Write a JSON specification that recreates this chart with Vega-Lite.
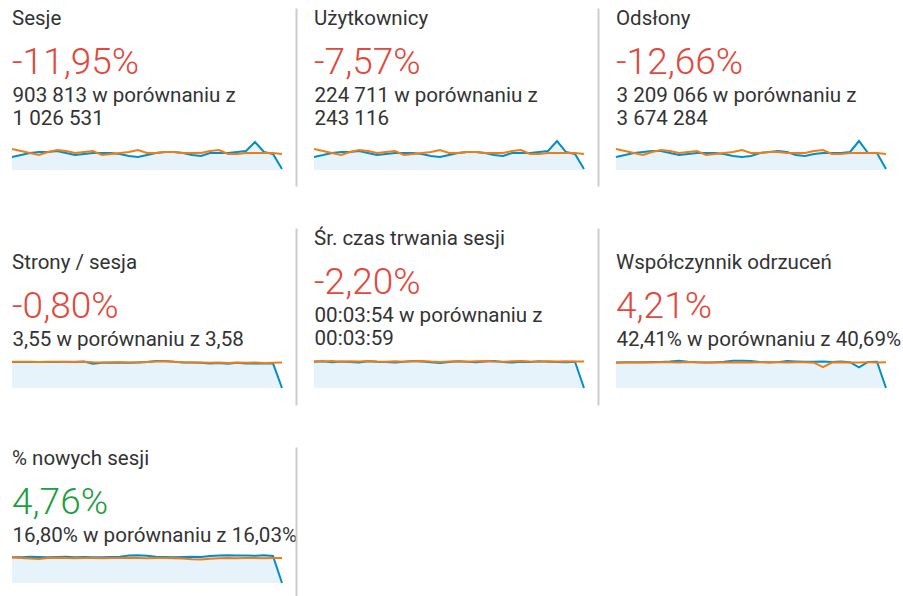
{
  "$schema": "https://vega.github.io/schema/vega-lite/v6.json",
  "padding": {"left": 8, "top": 8, "right": 0, "bottom": 0},
  "autosize": {"type": "pad"},
  "background": "white",
  "config": {"view": {"stroke": null}, "font": "Roboto"},
  "columns": 3,
  "spacing": {"row": 42, "column": 32},
  "bounds": "flush",
  "data": {"values": [
    {"m":"Sesje","d":1,"cur":23315,"prev":37612},{"m":"Sesje","d":2,"cur":26874,"prev":33987},{"m":"Sesje","d":3,"cur":30412,"prev":30455},{"m":"Sesje","d":4,"cur":32251,"prev":26838},{"m":"Sesje","d":5,"cur":32190,"prev":32247},{"m":"Sesje","d":6,"cur":34046,"prev":35781},{"m":"Sesje","d":7,"cur":30398,"prev":34029},{"m":"Sesje","d":8,"cur":26811,"prev":30418},{"m":"Sesje","d":9,"cur":28677,"prev":32196},{"m":"Sesje","d":10,"cur":30455,"prev":34044},{"m":"Sesje","d":11,"cur":30389,"prev":26871},{"m":"Sesje","d":12,"cur":30472,"prev":28619},{"m":"Sesje","d":13,"cur":28603,"prev":30462},{"m":"Sesje","d":14,"cur":25088,"prev":32233},{"m":"Sesje","d":15,"cur":23241,"prev":35815},{"m":"Sesje","d":16,"cur":26832,"prev":30407},{"m":"Sesje","d":17,"cur":30467,"prev":30449},{"m":"Sesje","d":18,"cur":32205,"prev":32212},{"m":"Sesje","d":19,"cur":32264,"prev":32238},{"m":"Sesje","d":20,"cur":30418,"prev":30426},{"m":"Sesje","d":21,"cur":26879,"prev":30391},{"m":"Sesje","d":22,"cur":25037,"prev":30458},{"m":"Sesje","d":23,"cur":30444,"prev":34023},{"m":"Sesje","d":24,"cur":30401,"prev":35786},{"m":"Sesje","d":25,"cur":30463,"prev":28662},{"m":"Sesje","d":26,"cur":32238,"prev":28627},{"m":"Sesje","d":27,"cur":33985,"prev":30441},{"m":"Sesje","d":28,"cur":50142,"prev":30416},{"m":"Sesje","d":29,"cur":32197,"prev":30473},{"m":"Sesje","d":30,"cur":28655,"prev":30409},{"m":"Sesje","d":31,"cur":1812,"prev":28651},
    {"m":"Users","d":1,"cur":5790,"prev":9300},{"m":"Users","d":2,"cur":6620,"prev":8420},{"m":"Users","d":3,"cur":7550,"prev":7530},{"m":"Users","d":4,"cur":7960,"prev":6650},{"m":"Users","d":5,"cur":8010,"prev":7970},{"m":"Users","d":6,"cur":8390,"prev":8860},{"m":"Users","d":7,"cur":7520,"prev":8410},{"m":"Users","d":8,"cur":6670,"prev":7540},{"m":"Users","d":9,"cur":7110,"prev":7980},{"m":"Users","d":10,"cur":7540,"prev":8430},{"m":"Users","d":11,"cur":7500,"prev":6640},{"m":"Users","d":12,"cur":7560,"prev":7090},{"m":"Users","d":13,"cur":7070,"prev":7520},{"m":"Users","d":14,"cur":6230,"prev":7970},{"m":"Users","d":15,"cur":5740,"prev":8870},{"m":"Users","d":16,"cur":6660,"prev":7530},{"m":"Users","d":17,"cur":7540,"prev":7550},{"m":"Users","d":18,"cur":7990,"prev":7960},{"m":"Users","d":19,"cur":7950,"prev":7990},{"m":"Users","d":20,"cur":7520,"prev":7520},{"m":"Users","d":21,"cur":6620,"prev":7540},{"m":"Users","d":22,"cur":6190,"prev":7510},{"m":"Users","d":23,"cur":7560,"prev":8420},{"m":"Users","d":24,"cur":7510,"prev":8850},{"m":"Users","d":25,"cur":7550,"prev":7080},{"m":"Users","d":26,"cur":7990,"prev":7100},{"m":"Users","d":27,"cur":8430,"prev":7530},{"m":"Users","d":28,"cur":12850,"prev":7510},{"m":"Users","d":29,"cur":7970,"prev":7550},{"m":"Users","d":30,"cur":7090,"prev":7520},{"m":"Users","d":31,"cur":450,"prev":7090},
    {"m":"Views","d":1,"cur":82400,"prev":132900},{"m":"Views","d":2,"cur":94800,"prev":120300},{"m":"Views","d":3,"cur":107700,"prev":107600},{"m":"Views","d":4,"cur":113900,"prev":95000},{"m":"Views","d":5,"cur":120400,"prev":113900},{"m":"Views","d":6,"cur":120100,"prev":126600},{"m":"Views","d":7,"cur":107500,"prev":120200},{"m":"Views","d":8,"cur":95100,"prev":107700},{"m":"Views","d":9,"cur":101200,"prev":114000},{"m":"Views","d":10,"cur":107800,"prev":120300},{"m":"Views","d":11,"cur":107400,"prev":94900},{"m":"Views","d":12,"cur":107700,"prev":101300},{"m":"Views","d":13,"cur":101400,"prev":107500},{"m":"Views","d":14,"cur":88500,"prev":113900},{"m":"Views","d":15,"cur":82300,"prev":126700},{"m":"Views","d":16,"cur":88700,"prev":107600},{"m":"Views","d":17,"cur":107600,"prev":107400},{"m":"Views","d":18,"cur":114000,"prev":113800},{"m":"Views","d":19,"cur":120200,"prev":114100},{"m":"Views","d":20,"cur":113800,"prev":107700},{"m":"Views","d":21,"cur":94900,"prev":107500},{"m":"Views","d":22,"cur":88600,"prev":107600},{"m":"Views","d":23,"cur":101300,"prev":120400},{"m":"Views","d":24,"cur":107500,"prev":126500},{"m":"Views","d":25,"cur":107700,"prev":101200},{"m":"Views","d":26,"cur":107400,"prev":101400},{"m":"Views","d":27,"cur":113900,"prev":107600},{"m":"Views","d":28,"cur":183600,"prev":107500},{"m":"Views","d":29,"cur":107600,"prev":107700},{"m":"Views","d":30,"cur":107800,"prev":107400},{"m":"Views","d":31,"cur":6400,"prev":101300},
    {"m":"Pages","d":1,"cur":3.55,"prev":3.58},{"m":"Pages","d":2,"cur":3.56,"prev":3.57},{"m":"Pages","d":3,"cur":3.55,"prev":3.59},{"m":"Pages","d":4,"cur":3.54,"prev":3.56},{"m":"Pages","d":5,"cur":3.56,"prev":3.58},{"m":"Pages","d":6,"cur":3.55,"prev":3.57},{"m":"Pages","d":7,"cur":3.57,"prev":3.55},{"m":"Pages","d":8,"cur":3.56,"prev":3.57},{"m":"Pages","d":9,"cur":3.62,"prev":3.58},{"m":"Pages","d":10,"cur":3.30,"prev":3.52},{"m":"Pages","d":11,"cur":3.44,"prev":3.50},{"m":"Pages","d":12,"cur":3.46,"prev":3.53},{"m":"Pages","d":13,"cur":3.47,"prev":3.51},{"m":"Pages","d":14,"cur":3.45,"prev":3.50},{"m":"Pages","d":15,"cur":3.48,"prev":3.52},{"m":"Pages","d":16,"cur":3.55,"prev":3.56},{"m":"Pages","d":17,"cur":3.68,"prev":3.63},{"m":"Pages","d":18,"cur":3.69,"prev":3.65},{"m":"Pages","d":19,"cur":3.58,"prev":3.60},{"m":"Pages","d":20,"cur":3.50,"prev":3.52},{"m":"Pages","d":21,"cur":3.47,"prev":3.49},{"m":"Pages","d":22,"cur":3.45,"prev":3.50},{"m":"Pages","d":23,"cur":3.36,"prev":3.45},{"m":"Pages","d":24,"cur":3.42,"prev":3.48},{"m":"Pages","d":25,"cur":3.33,"prev":3.42},{"m":"Pages","d":26,"cur":3.44,"prev":3.50},{"m":"Pages","d":27,"cur":3.35,"prev":3.44},{"m":"Pages","d":28,"cur":3.36,"prev":3.47},{"m":"Pages","d":29,"cur":3.34,"prev":3.43},{"m":"Pages","d":30,"cur":3.37,"prev":3.46},{"m":"Pages","d":31,"cur":0,"prev":3.47},
    {"m":"Dur","d":1,"cur":236,"prev":240},{"m":"Dur","d":2,"cur":240,"prev":238},{"m":"Dur","d":3,"cur":231,"prev":242},{"m":"Dur","d":4,"cur":238,"prev":236},{"m":"Dur","d":5,"cur":233,"prev":241},{"m":"Dur","d":6,"cur":229,"prev":238},{"m":"Dur","d":7,"cur":241,"prev":243},{"m":"Dur","d":8,"cur":236,"prev":239},{"m":"Dur","d":9,"cur":234,"prev":237},{"m":"Dur","d":10,"cur":230,"prev":241},{"m":"Dur","d":11,"cur":237,"prev":236},{"m":"Dur","d":12,"cur":244,"prev":240},{"m":"Dur","d":13,"cur":239,"prev":243},{"m":"Dur","d":14,"cur":232,"prev":238},{"m":"Dur","d":15,"cur":226,"prev":235},{"m":"Dur","d":16,"cur":233,"prev":239},{"m":"Dur","d":17,"cur":240,"prev":241},{"m":"Dur","d":18,"cur":236,"prev":237},{"m":"Dur","d":19,"cur":231,"prev":240},{"m":"Dur","d":20,"cur":238,"prev":242},{"m":"Dur","d":21,"cur":242,"prev":238},{"m":"Dur","d":22,"cur":235,"prev":236},{"m":"Dur","d":23,"cur":229,"prev":240},{"m":"Dur","d":24,"cur":236,"prev":243},{"m":"Dur","d":25,"cur":233,"prev":239},{"m":"Dur","d":26,"cur":240,"prev":237},{"m":"Dur","d":27,"cur":237,"prev":241},{"m":"Dur","d":28,"cur":234,"prev":238},{"m":"Dur","d":29,"cur":231,"prev":240},{"m":"Dur","d":30,"cur":236,"prev":239},{"m":"Dur","d":31,"cur":0,"prev":238},
    {"m":"Bounce","d":1,"cur":41.5,"prev":41.2},{"m":"Bounce","d":2,"cur":41.8,"prev":41.6},{"m":"Bounce","d":3,"cur":42.0,"prev":41.4},{"m":"Bounce","d":4,"cur":41.9,"prev":42.0},{"m":"Bounce","d":5,"cur":42.3,"prev":41.7},{"m":"Bounce","d":6,"cur":42.6,"prev":42.1},{"m":"Bounce","d":7,"cur":43.2,"prev":41.8},{"m":"Bounce","d":8,"cur":44.5,"prev":41.5},{"m":"Bounce","d":9,"cur":43.0,"prev":42.2},{"m":"Bounce","d":10,"cur":42.1,"prev":41.9},{"m":"Bounce","d":11,"cur":41.6,"prev":41.6},{"m":"Bounce","d":12,"cur":41.9,"prev":42.0},{"m":"Bounce","d":13,"cur":42.8,"prev":41.7},{"m":"Bounce","d":14,"cur":44.3,"prev":41.4},{"m":"Bounce","d":15,"cur":44.6,"prev":41.9},{"m":"Bounce","d":16,"cur":44.1,"prev":41.6},{"m":"Bounce","d":17,"cur":42.5,"prev":41.8},{"m":"Bounce","d":18,"cur":41.6,"prev":42.2},{"m":"Bounce","d":19,"cur":42.2,"prev":41.9},{"m":"Bounce","d":20,"cur":44.2,"prev":41.5},{"m":"Bounce","d":21,"cur":43.4,"prev":41.8},{"m":"Bounce","d":22,"cur":42.7,"prev":42.0},{"m":"Bounce","d":23,"cur":42.9,"prev":41.3},{"m":"Bounce","d":24,"cur":43.1,"prev":34.2},{"m":"Bounce","d":25,"cur":42.6,"prev":41.6},{"m":"Bounce","d":26,"cur":43.3,"prev":41.9},{"m":"Bounce","d":27,"cur":42.0,"prev":41.5},{"m":"Bounce","d":28,"cur":33.5,"prev":41.7},{"m":"Bounce","d":29,"cur":42.6,"prev":41.8},{"m":"Bounce","d":30,"cur":42.9,"prev":41.6},{"m":"Bounce","d":31,"cur":0,"prev":41.9},
    {"m":"New","d":1,"cur":16.6,"prev":16.4},{"m":"New","d":2,"cur":16.7,"prev":16.2},{"m":"New","d":3,"cur":16.9,"prev":15.8},{"m":"New","d":4,"cur":16.8,"prev":15.5},{"m":"New","d":5,"cur":16.7,"prev":16.1},{"m":"New","d":6,"cur":16.8,"prev":16.3},{"m":"New","d":7,"cur":16.9,"prev":16.2},{"m":"New","d":8,"cur":16.7,"prev":16.0},{"m":"New","d":9,"cur":16.8,"prev":16.2},{"m":"New","d":10,"cur":16.6,"prev":16.1},{"m":"New","d":11,"cur":16.7,"prev":16.0},{"m":"New","d":12,"cur":16.8,"prev":16.2},{"m":"New","d":13,"cur":16.9,"prev":16.1},{"m":"New","d":14,"cur":17.8,"prev":16.3},{"m":"New","d":15,"cur":18.0,"prev":16.2},{"m":"New","d":16,"cur":17.6,"prev":16.0},{"m":"New","d":17,"cur":16.9,"prev":16.1},{"m":"New","d":18,"cur":16.8,"prev":16.2},{"m":"New","d":19,"cur":16.7,"prev":16.0},{"m":"New","d":20,"cur":16.8,"prev":15.9},{"m":"New","d":21,"cur":16.9,"prev":15.4},{"m":"New","d":22,"cur":16.8,"prev":15.2},{"m":"New","d":23,"cur":17.5,"prev":15.7},{"m":"New","d":24,"cur":17.8,"prev":16.0},{"m":"New","d":25,"cur":17.9,"prev":16.1},{"m":"New","d":26,"cur":17.7,"prev":16.0},{"m":"New","d":27,"cur":17.8,"prev":16.2},{"m":"New","d":28,"cur":17.6,"prev":16.1},{"m":"New","d":29,"cur":17.9,"prev":16.0},{"m":"New","d":30,"cur":17.4,"prev":16.2},{"m":"New","d":31,"cur":0,"prev":16.1}
  ]},
  "concat": [
    {
      "width": 270, "height": 178,
      "title": {"text": "Sesje", "subtitle": "-11,95%", "anchor": "start", "frame": "group", "offset": -72.5, "font": "Roboto", "fontSize": 20.5, "fontWeight": "normal", "color": "#333333", "subtitleFont": "Roboto", "subtitleFontSize": 37, "subtitleFontWeight": 300, "subtitleColor": "#e0493b", "subtitlePadding": 15},
      "transform": [{"filter": {"field": "m", "equal": "Sesje"}}, {"fold": ["cur", "prev"], "as": ["s", "v"]}],
      "encoding": {
        "x": {"field": "d", "type": "quantitative", "scale": {"domain": [1, 31], "nice": false, "zero": false},
              "axis": {"orient": "top", "title": ["903 813 w porównaniu z", "1 026 531"], "labels": false, "ticks": false, "domain": false, "grid": false, "titleAnchor": "start", "titleAlign": "left", "titleBaseline": "top", "titleX": 0, "titleY": 77, "titleFont": "Roboto", "titleFontSize": 20.6, "titleFontWeight": "normal", "titleColor": "#333333", "titleLineHeight": 23, "titleLimit": 400}},
        "y": {"field": "v", "type": "quantitative", "scale": {"domain": [-28640, 289980], "nice": false},
              "axis": {"orient": "right", "title": null, "labels": false, "ticks": false, "grid": false, "domain": true, "domainColor": "#cccccc", "domainWidth": 2, "offset": 14}}
      },
      "layer": [
        {"transform": [{"filter": {"field": "s", "equal": "cur"}}], "mark": {"type": "area", "color": "#e6f3fa"}},
        {"mark": {"type": "line", "strokeWidth": 2}, "encoding": {"color": {"field": "s", "type": "nominal", "scale": {"domain": ["cur", "prev"], "range": ["#058dc7", "#ed7e17"]}, "legend": null}}}
      ]
    },
    {
      "width": 270, "height": 178,
      "title": {"text": "Użytkownicy", "subtitle": "-7,57%", "anchor": "start", "frame": "group", "offset": -72.5, "font": "Roboto", "fontSize": 20.5, "fontWeight": "normal", "color": "#333333", "subtitleFont": "Roboto", "subtitleFontSize": 37, "subtitleFontWeight": 300, "subtitleColor": "#e0493b", "subtitlePadding": 15},
      "transform": [{"filter": {"field": "m", "equal": "Users"}}, {"fold": ["cur", "prev"], "as": ["s", "v"]}],
      "encoding": {
        "x": {"field": "d", "type": "quantitative", "scale": {"domain": [1, 31], "nice": false, "zero": false},
              "axis": {"orient": "top", "title": ["224 711 w porównaniu z", "243 116"], "labels": false, "ticks": false, "domain": false, "grid": false, "titleAnchor": "start", "titleAlign": "left", "titleBaseline": "top", "titleX": 0, "titleY": 77, "titleFont": "Roboto", "titleFontSize": 20.6, "titleFontWeight": "normal", "titleColor": "#333333", "titleLineHeight": 23, "titleLimit": 400}},
        "y": {"field": "v", "type": "quantitative", "scale": {"domain": [-7088, 71766], "nice": false},
              "axis": {"orient": "right", "title": null, "labels": false, "ticks": false, "grid": false, "domain": true, "domainColor": "#cccccc", "domainWidth": 2, "offset": 14}}
      },
      "layer": [
        {"transform": [{"filter": {"field": "s", "equal": "cur"}}], "mark": {"type": "area", "color": "#e6f3fa"}},
        {"mark": {"type": "line", "strokeWidth": 2}, "encoding": {"color": {"field": "s", "type": "nominal", "scale": {"domain": ["cur", "prev"], "range": ["#058dc7", "#ed7e17"]}, "legend": null}}}
      ]
    },
    {
      "width": 270, "height": 178,
      "title": {"text": "Odsłony", "subtitle": "-12,66%", "anchor": "start", "frame": "group", "offset": -72.5, "font": "Roboto", "fontSize": 20.5, "fontWeight": "normal", "color": "#333333", "subtitleFont": "Roboto", "subtitleFontSize": 37, "subtitleFontWeight": 300, "subtitleColor": "#e0493b", "subtitlePadding": 15},
      "transform": [{"filter": {"field": "m", "equal": "Views"}}, {"fold": ["cur", "prev"], "as": ["s", "v"]}],
      "encoding": {
        "x": {"field": "d", "type": "quantitative", "scale": {"domain": [1, 31], "nice": false, "zero": false},
              "axis": {"orient": "top", "title": ["3 209 066 w porównaniu z", "3 674 284"], "labels": false, "ticks": false, "domain": false, "grid": false, "titleAnchor": "start", "titleAlign": "left", "titleBaseline": "top", "titleX": 0, "titleY": 77, "titleFont": "Roboto", "titleFontSize": 20.6, "titleFontWeight": "normal", "titleColor": "#333333", "titleLineHeight": 23, "titleLimit": 400}},
        "y": {"field": "v", "type": "quantitative", "scale": {"domain": [-101280, 1025460], "nice": false},
              "axis": {"orient": "right", "title": null, "labels": false, "ticks": false, "grid": false, "domain": true, "domainColor": "#cccccc", "domainOpacity": 0, "domainWidth": 2, "offset": 14}}
      },
      "layer": [
        {"transform": [{"filter": {"field": "s", "equal": "cur"}}], "mark": {"type": "area", "color": "#e6f3fa"}},
        {"mark": {"type": "line", "strokeWidth": 2}, "encoding": {"color": {"field": "s", "type": "nominal", "scale": {"domain": ["cur", "prev"], "range": ["#058dc7", "#ed7e17"]}, "legend": null}}}
      ]
    },
    {
      "width": 270, "height": 177,
      "title": {"text": "Strony / sesja", "subtitle": "-0,80%", "anchor": "start", "frame": "group", "offset": -96.5, "font": "Roboto", "fontSize": 20.5, "fontWeight": "normal", "color": "#333333", "subtitleFont": "Roboto", "subtitleFontSize": 37, "subtitleFontWeight": 300, "subtitleColor": "#e0493b", "subtitlePadding": 15},
      "transform": [{"filter": {"field": "m", "equal": "Pages"}}, {"fold": ["cur", "prev"], "as": ["s", "v"]}],
      "encoding": {
        "x": {"field": "d", "type": "quantitative", "scale": {"domain": [1, 31], "nice": false, "zero": false},
              "axis": {"orient": "top", "title": "3,55 w porównaniu z 3,58", "labels": false, "ticks": false, "domain": false, "grid": false, "titleAnchor": "start", "titleAlign": "left", "titleBaseline": "top", "titleX": 0, "titleY": 101, "titleFont": "Roboto", "titleFontSize": 20.6, "titleFontWeight": "normal", "titleColor": "#333333", "titleLineHeight": 23, "titleLimit": 400}},
        "y": {"field": "v", "type": "quantitative", "scale": {"domain": [-2.32, 21.85], "nice": false},
              "axis": {"orient": "right", "title": null, "labels": false, "ticks": false, "grid": false, "domain": true, "domainColor": "#cccccc", "domainWidth": 2, "offset": 14}}
      },
      "layer": [
        {"transform": [{"filter": {"field": "s", "equal": "cur"}}], "mark": {"type": "area", "color": "#e6f3fa"}},
        {"mark": {"type": "line", "strokeWidth": 2}, "encoding": {"color": {"field": "s", "type": "nominal", "scale": {"domain": ["cur", "prev"], "range": ["#058dc7", "#ed7e17"]}, "legend": null}}}
      ]
    },
    {
      "width": 270, "height": 177,
      "title": {"text": "Śr. czas trwania sesji", "subtitle": "-2,20%", "anchor": "start", "frame": "group", "offset": -72.5, "font": "Roboto", "fontSize": 20.5, "fontWeight": "normal", "color": "#333333", "subtitleFont": "Roboto", "subtitleFontSize": 37, "subtitleFontWeight": 300, "subtitleColor": "#e0493b", "subtitlePadding": 15},
      "transform": [{"filter": {"field": "m", "equal": "Dur"}}, {"fold": ["cur", "prev"], "as": ["s", "v"]}],
      "encoding": {
        "x": {"field": "d", "type": "quantitative", "scale": {"domain": [1, 31], "nice": false, "zero": false},
              "axis": {"orient": "top", "title": ["00:03:54 w porównaniu z", "00:03:59"], "labels": false, "ticks": false, "domain": false, "grid": false, "titleAnchor": "start", "titleAlign": "left", "titleBaseline": "top", "titleX": 0, "titleY": 77, "titleFont": "Roboto", "titleFontSize": 20.6, "titleFontWeight": "normal", "titleColor": "#333333", "titleLineHeight": 23, "titleLimit": 400}},
        "y": {"field": "v", "type": "quantitative", "scale": {"domain": [-153, 1440], "nice": false},
              "axis": {"orient": "right", "title": null, "labels": false, "ticks": false, "grid": false, "domain": true, "domainColor": "#cccccc", "domainWidth": 2, "offset": 14}}
      },
      "layer": [
        {"transform": [{"filter": {"field": "s", "equal": "cur"}}], "mark": {"type": "area", "color": "#e6f3fa"}},
        {"mark": {"type": "line", "strokeWidth": 2}, "encoding": {"color": {"field": "s", "type": "nominal", "scale": {"domain": ["cur", "prev"], "range": ["#058dc7", "#ed7e17"]}, "legend": null}}}
      ]
    },
    {
      "width": 270, "height": 177,
      "title": {"text": "Współczynnik odrzuceń", "subtitle": "4,21%", "anchor": "start", "frame": "group", "offset": -96.5, "font": "Roboto", "fontSize": 20.5, "fontWeight": "normal", "color": "#333333", "subtitleFont": "Roboto", "subtitleFontSize": 37, "subtitleFontWeight": 300, "subtitleColor": "#e0493b", "subtitlePadding": 15},
      "transform": [{"filter": {"field": "m", "equal": "Bounce"}}, {"fold": ["cur", "prev"], "as": ["s", "v"]}],
      "encoding": {
        "x": {"field": "d", "type": "quantitative", "scale": {"domain": [1, 31], "nice": false, "zero": false},
              "axis": {"orient": "top", "title": "42,41% w porównaniu z 40,69%", "labels": false, "ticks": false, "domain": false, "grid": false, "titleAnchor": "start", "titleAlign": "left", "titleBaseline": "top", "titleX": 0, "titleY": 101, "titleFont": "Roboto", "titleFontSize": 20.6, "titleFontWeight": "normal", "titleColor": "#333333", "titleLineHeight": 23, "titleLimit": 400}},
        "y": {"field": "v", "type": "quantitative", "scale": {"domain": [-27.73, 260.96], "nice": false},
              "axis": {"orient": "right", "title": null, "labels": false, "ticks": false, "grid": false, "domain": true, "domainColor": "#cccccc", "domainOpacity": 0, "domainWidth": 2, "offset": 14}}
      },
      "layer": [
        {"transform": [{"filter": {"field": "s", "equal": "cur"}}], "mark": {"type": "area", "color": "#e6f3fa"}},
        {"mark": {"type": "line", "strokeWidth": 2}, "encoding": {"color": {"field": "s", "type": "nominal", "scale": {"domain": ["cur", "prev"], "range": ["#058dc7", "#ed7e17"]}, "legend": null}}}
      ]
    },
    {
      "width": 270, "height": 154,
      "title": {"text": "% nowych sesji", "subtitle": "4,76%", "anchor": "start", "frame": "group", "offset": -73.5, "font": "Roboto", "fontSize": 20.5, "fontWeight": "normal", "color": "#333333", "subtitleFont": "Roboto", "subtitleFontSize": 37, "subtitleFontWeight": 300, "subtitleColor": "#1e9e3e", "subtitlePadding": 15},
      "transform": [{"filter": {"field": "m", "equal": "New"}}, {"fold": ["cur", "prev"], "as": ["s", "v"]}],
      "encoding": {
        "x": {"field": "d", "type": "quantitative", "scale": {"domain": [1, 31], "nice": false, "zero": false},
              "axis": {"orient": "top", "title": "16,80% w porównaniu z 16,03%", "labels": false, "ticks": false, "domain": false, "grid": false, "titleAnchor": "start", "titleAlign": "left", "titleBaseline": "top", "titleX": 0, "titleY": 78, "titleFont": "Roboto", "titleFontSize": 20.6, "titleFontWeight": "normal", "titleColor": "#333333", "titleLineHeight": 23, "titleLimit": 400}},
        "y": {"field": "v", "type": "quantitative", "scale": {"domain": [-11.63, 87.86], "nice": false},
              "axis": {"orient": "right", "title": null, "labels": false, "ticks": false, "grid": false, "domain": true, "domainColor": "#cccccc", "domainWidth": 2, "offset": 14}}
      },
      "layer": [
        {"transform": [{"filter": {"field": "s", "equal": "cur"}}], "mark": {"type": "area", "color": "#e6f3fa"}},
        {"mark": {"type": "line", "strokeWidth": 2}, "encoding": {"color": {"field": "s", "type": "nominal", "scale": {"domain": ["cur", "prev"], "range": ["#058dc7", "#ed7e17"]}, "legend": null}}}
      ]
    }
  ]
}
